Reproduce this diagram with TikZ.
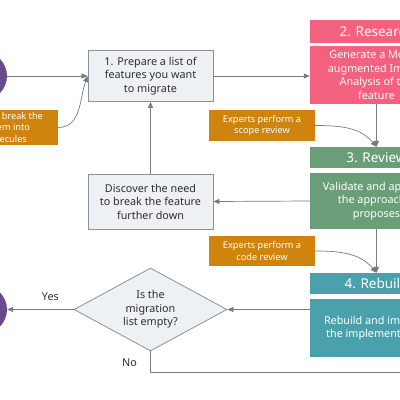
\documentclass[tikz,border=0pt]{standalone}
\usepackage{fontspec}
\setmainfont{Noto Sans}
\usepackage{tikz}
\usetikzlibrary{positioning, shapes.geometric, arrows.meta}
\usepackage{xcolor}

\definecolor{boxfill}{HTML}{EDF1F4}
\definecolor{boxline}{HTML}{8C9196}
\definecolor{arrowgray}{HTML}{7A7A7A}
\definecolor{textdark}{HTML}{2E2E2E}
\definecolor{notefill}{HTML}{CF840E}
\definecolor{researchpink}{HTML}{F2617E}
\definecolor{reviewgreen}{HTML}{6A9E78}
\definecolor{rebuildteal}{HTML}{4AA1AC}
\definecolor{endpurple}{HTML}{6B4A8C}

\tikzset{
  procbox/.style={draw=boxline, fill=boxfill, line width=0.8pt, text=textdark,
    align=center, inner sep=0pt, font=\fontsize{10.8}{13.5}\selectfont},
  stagehead/.style={fill=#1, text=white, align=center, inner sep=0pt,
    minimum width=133pt, minimum height=22pt, font=\fontsize{13.5}{15}\selectfont},
  stagebody/.style={fill=#1, text=white, align=center, inner sep=0pt,
    minimum width=133pt, font=\fontsize{10.8}{13.5}\selectfont},
  notebox/.style={fill=notefill, text=white, align=center, inner sep=0pt,
    minimum width=106pt, font=\fontsize{9.2}{11.5}\selectfont},
  decision/.style={diamond, aspect=1.84, draw=boxline, fill=boxfill, line width=0.8pt,
    text=textdark, align=center, inner sep=0pt, minimum width=153pt, minimum height=83pt,
    font=\fontsize{10.8}{13.5}\selectfont},
  endpt/.style={circle, fill=endpurple, minimum size=48pt, inner sep=0pt},
  flow/.style={draw=arrowgray, line width=0.7pt, -{Triangle[length=6pt, width=5pt]}},
}

\begin{document}
\begin{tikzpicture}[x=1pt, y=-1pt]
          \useasboundingbox (0,0) rectangle (400,400);
          \clip (0,0) rectangle (400,400);

          % 子圖形 endpoints (類型: circle)
          \begin{scope}[shift={(0.0, 0.0)}]
            % 起點與終點
            \node[endpt] (start) at (-17, 76) {};
            \node[endpt] (finish) at (-17, 309.5) {};
          \end{scope}

          % 子圖形 left column (類型: box)
          \begin{scope}[shift={(0.0, 0.0)}]
            % 方框
            \node[procbox, minimum width=125pt, minimum height=51pt] (prepare) at (150.5, 76)
              {1. Prepare a list of\\features you want\\to migrate};
            \node[procbox, minimum width=125pt, minimum height=55pt] (discover) at (150.5, 201.5)
              {Discover the need\\to break the feature\\further down};
            \node[decision] (empty) at (150.5, 309.5) {Is the\\migration\\list empty?};
          \end{scope}

          % 子圖形 expert notes (類型: label)
          \begin{scope}[shift={(0.0, 0.0)}]
            % 註記
            \node[notebox, minimum height=35pt] (molecules) at (5, 127.5)
              {Experts break the\\system into\\molecules};
            \node[notebox, minimum height=31pt] (scope) at (262, 125.5)
              {Experts perform a\\scope review};
            \node[notebox, minimum height=30pt] (codereview) at (262, 251)
              {Experts perform a\\code review};
          \end{scope}

          % 子圖形 stages (類型: box)
          \begin{scope}[shift={(0.0, 0.0)}]
            % 階段
            \node[stagehead=researchpink, minimum height=23pt] (researchhead) at (376.5, 31.5) {2. Research};
            \node[stagebody=researchpink, minimum height=58pt] (research) at (376.5, 75)
              {Generate a Model-\\augmented Impact\\Analysis of the\\feature};
            \node[stagehead=reviewgreen, minimum height=21pt] (reviewhead) at (376.5, 157.5) {3. Review};
            \node[stagebody=reviewgreen, minimum height=56pt] (review) at (376.5, 201)
              {Validate and approve\\the approach it\\proposes};
            \node[stagehead=rebuildteal, minimum height=21pt] (rebuildhead) at (376.5, 283.5) {4. Rebuild};
            \node[stagebody=rebuildteal, minimum height=58pt] (rebuild) at (376.5, 328)
              {Rebuild and improve\\the implementation};
          \end{scope}

          % 子圖形 connectors (類型: line)
          \begin{scope}[shift={(0.0, 0.0)}]
            % 箭頭
            \draw[flow] (start.east) -- (prepare.west);
            \draw[flow] (molecules.east) to[out=0, in=-110] (prepare.west);
            \draw[flow] (prepare.east) -- (prepare.east -| research.west);
            \draw[flow] (research.south) -- (reviewhead.north);
            \draw[flow] (scope.east) to[out=0, in=130] (reviewhead.north);
            \draw[flow] (review.west) -- (discover.east);
            \draw[flow] (discover.north) -- (prepare.south);
            \draw[flow] (review.south) -- (rebuildhead.north);
            \draw[flow] (codereview.east) to[out=0, in=130] (rebuildhead.north);
            \draw[flow] (empty.east -| rebuild.west) -- (empty.east);
            \draw[flow] (empty.west) -- node[above=5pt, pos=0.35, text=textdark, font=\fontsize{10.8}{12}\selectfont] {Yes} (finish.east);
            \coordinate (loopback) at (460, 372);
            \draw[draw=arrowgray, line width=0.7pt] (empty.south) -- node[left=10pt, pos=0.55, text=textdark, font=\fontsize{10.8}{12}\selectfont] {No} (empty.south |- loopback) -- (loopback);
          \end{scope}
        \end{tikzpicture}
\end{document}
